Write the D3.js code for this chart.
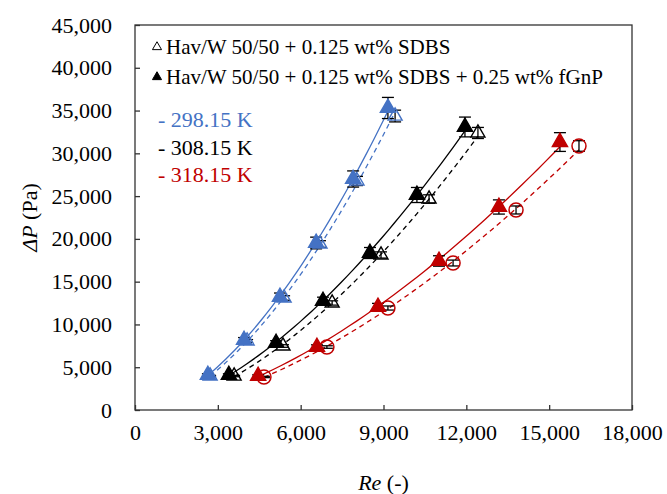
<!DOCTYPE html>
<html>
<head>
<meta charset="utf-8">
<script src="https://cdn.jsdelivr.net/npm/d3@7"></script>
<style>
body { margin: 0; background: #fff; }
text { font-family: "Liberation Serif", "Times New Roman", serif; }
</style>
</head>
<body>
<div id="chart-area"></div>
<script>
// Re and dP, one pair of arrays per series
const temps = ["298.15 K", "308.15 K", "318.15 K"]
const colors = ["#4472C4", "#000000", "#C00000"]

// with 0.25 wt% fGnP (filled triangles, solid)
const re298Gnp = [2640, 3950, 5250, 6560, 7900, 9160]
const dp298Gnp = [4090, 8180, 13210, 19520, 27000, 35300]
const re308Gnp = [3400, 5110, 6810, 8510, 10210, 11950]
const dp308Gnp = [4090, 7830, 12740, 18350, 25130, 33080]
const re318Gnp = [4460, 6590, 8800, 11010, 13180, 15390]
const dp318Gnp = [3970, 7360, 12040, 17420, 23730, 31320]

// SDBS only (open markers, dashed)
const re298Sdbs = [2720, 4060, 5400, 6700, 8040, 9420]
const dp298Sdbs = [3970, 8070, 13090, 19400, 26770, 34360]
const re308Sdbs = [3590, 5360, 7140, 8910, 10650, 12420]
const dp308Sdbs = [3970, 7480, 12510, 18120, 24660, 32380]
const re318Sdbs = [4670, 6950, 9160, 11520, 13800, 16080]
const dp318Sdbs = [3860, 7360, 11920, 17180, 23380, 30860]

const xTicks = [0, 3000, 6000, 9000, 12000, 15000, 18000]
const yTicks = [0, 5000, 10000, 15000, 20000, 25000, 30000, 35000, 40000, 45000]
const errGnp = 0.035   // error bar size, fraction of dP
const errSdbs = 0.02

const legendLabels = ["Hav/W 50/50 + 0.125 wt% SDBS", "Hav/W 50/50 + 0.125 wt% SDBS + 0.25 wt% fGnP"]

const MARGIN = {LEFT: 135, RIGHT: 35, TOP: 25, BOTTOM: 84}
const WIDTH = 497
const HEIGHT = 385

const series = [
  {re: re298Sdbs, dp: dp298Sdbs, c: 0, filled: false},
  {re: re308Sdbs, dp: dp308Sdbs, c: 1, filled: false},
  {re: re318Sdbs, dp: dp318Sdbs, c: 2, filled: false, circle: true},
  {re: re298Gnp, dp: dp298Gnp, c: 0, filled: true},
  {re: re308Gnp, dp: dp308Gnp, c: 1, filled: true},
  {re: re318Gnp, dp: dp318Gnp, c: 2, filled: true}
]

const svg = d3.select("#chart-area").append("svg")
    .attr("width", 667)
    .attr("height", 494)

svg.append("rect").attr("width", 667).attr("height", 494).attr("fill", "#fff")

const g = svg.append("g")
    .attr("transform", `translate(${MARGIN.LEFT}, ${MARGIN.TOP})`)

const x = d3.scaleLinear().domain([0, 18000]).range([0, WIDTH])
const y = d3.scaleLinear().domain([0, 45000]).range([HEIGHT, 0])

// axes, ticks pointing inwards
const xAxisCall = d3.axisBottom(x)
    .tickValues(xTicks)
    .tickSizeInner(-5)
    .tickSizeOuter(0)
    .tickPadding(14)
    .tickFormat(d3.format(","))
const yAxisCall = d3.axisLeft(y)
    .tickValues(yTicks)
    .tickSizeInner(-5)
    .tickSizeOuter(0)
    .tickPadding(23)
    .tickFormat(d3.format(","))

const xg = g.append("g").attr("transform", `translate(0, ${HEIGHT})`).call(xAxisCall)
const yg = g.append("g").call(yAxisCall)
;[xg, yg].forEach(a => {
  a.select(".domain").remove()
  a.selectAll(".tick line").attr("stroke", "#333").attr("stroke-width", 1.3)
  a.selectAll("text")
    .attr("fill", "#000")
    .attr("font-size", "22px")
    .attr("font-family", "Liberation Serif, serif")
})
xg.selectAll("text").attr("dy", "0.71em")

// plot frame
g.append("rect")
  .attr("width", WIDTH).attr("height", HEIGHT)
  .attr("fill", "none").attr("stroke", "#333").attr("stroke-width", 1.3)

// power trendlines
function powerFit(xs, ys) {
  const lx = xs.map(Math.log), ly = ys.map(Math.log)
  const mx = d3.mean(lx), my = d3.mean(ly)
  const b = d3.sum(lx, (v, i) => (v - mx) * (ly[i] - my)) / d3.sum(lx, v => (v - mx) ** 2)
  const a = Math.exp(my - b * mx)
  return v => a * Math.pow(v, b)
}
const line = d3.line().x(d => x(d[0])).y(d => y(d[1]))
series.forEach(s => {
  const f = powerFit(s.re, s.dp)
  const lo = d3.min(s.re), hi = d3.max(s.re)
  const pts = d3.range(41).map(i => {
    const r = lo + (hi - lo) * i / 40
    return [r, f(r)]
  })
  g.append("path")
    .attr("d", line(pts))
    .attr("fill", "none")
    .attr("stroke", colors[s.c])
    .attr("stroke-width", 1.3)
    .attr("stroke-dasharray", s.filled ? null : "5,4")
})

// error bars
series.forEach(s => {
  const eb = g.append("g").attr("stroke", "#000").attr("stroke-width", 1.3)
  const frac = s.filled ? errGnp : errSdbs
  s.re.forEach((r, i) => {
    const cx = x(r), e = s.dp[i] * frac
    const y0 = y(s.dp[i] - e), y1 = y(s.dp[i] + e)
    eb.append("line").attr("x1", cx).attr("x2", cx).attr("y1", y0).attr("y2", y1)
    eb.append("line").attr("x1", cx - 6).attr("x2", cx + 6).attr("y1", y0).attr("y2", y0)
    eb.append("line").attr("x1", cx - 6).attr("x2", cx + 6).attr("y1", y1).attr("y2", y1)
  })
})

// markers
const tri = d3.symbol().type(d3.symbolTriangle)
series.forEach(s => {
  const m = g.append("g")
  s.re.forEach((r, i) => {
    if (s.circle) {
      m.append("circle")
        .attr("cx", x(r)).attr("cy", y(s.dp[i])).attr("r", 7)
        .attr("fill", "none").attr("stroke", colors[s.c]).attr("stroke-width", 1.5)
    } else {
      m.append("path")
        .attr("d", tri.size(s.filled ? 100 : 85)())
        .attr("transform", `translate(${x(r)}, ${y(s.dp[i])})`)
        .attr("fill", s.filled ? colors[s.c] : "none")
        .attr("stroke", colors[s.c])
        .attr("stroke-width", 1.4)
    }
  })
})

// legend
legendLabels.forEach((t, i) => {
  const ly = 47 + i * 30
  g.append("path")
    .attr("d", tri.size(36)())
    .attr("transform", `translate(${157 - MARGIN.LEFT}, ${ly - MARGIN.TOP})`)
    .attr("fill", i === 1 ? "#000" : "none")
    .attr("stroke", "#000").attr("stroke-width", 1)
  g.append("text")
    .attr("x", 166 - MARGIN.LEFT)
    .attr("y", ly + 7 - MARGIN.TOP)
    .attr("font-size", "21px")
    .text(t)
})

// temperature labels
temps.forEach((t, i) => {
  g.append("text")
    .attr("x", 158 - MARGIN.LEFT)
    .attr("y", 127 + i * 27.5 - MARGIN.TOP)
    .attr("font-size", "22px")
    .attr("fill", colors[i])
    .text("- " + t)
})

// Y label
const yl = svg.append("text")
  .attr("transform", `translate(37, ${MARGIN.TOP + HEIGHT / 2}) rotate(-90)`)
  .attr("text-anchor", "middle")
  .attr("font-size", "22px")
yl.append("tspan").attr("font-style", "italic").text("ΔP")
yl.append("tspan").text(" (Pa)")

// X label
const xl = svg.append("text")
  .attr("x", MARGIN.LEFT + WIDTH / 2)
  .attr("y", 490)
  .attr("text-anchor", "middle")
  .attr("font-size", "22px")
xl.append("tspan").attr("font-style", "italic").text("Re")
xl.append("tspan").text(" (-)")
</script>
</body>
</html>
